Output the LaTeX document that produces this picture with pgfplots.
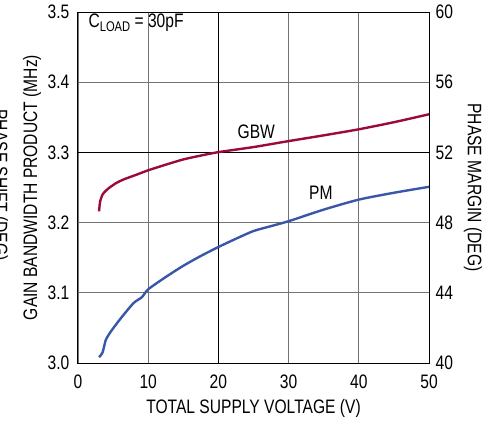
\documentclass[border=0pt]{standalone}
\usepackage{fontspec}
\setmainfont[FakeStretch=0.8]{Liberation Sans}
\usepackage{pgfplots}
\pgfplotsset{compat=1.18}
\definecolor{gbw}{HTML}{9B0A3A}
\definecolor{pm}{HTML}{3A56A8}
\begin{document}
\fontsize{19.5}{22}\selectfont
\begin{tikzpicture}
\pgfplotsset{
  common/.style={
    at={(0,0)}, anchor=south west,
    scale only axis, width=351pt, height=351pt,
    xmin=0, xmax=50,
    /pgf/number format/assume math mode=true,
    major tick length=0pt,
    axis line style={black, line width=1pt},
    tick label style={font=\fontsize{19.5}{22}\selectfont},
    label style={font=\fontsize{19.5}{22}\selectfont},
  }
}
\begin{axis}[common,
  ymin=3.0, ymax=3.5,
  xtick={0,10,20,30,40,50},
  ytick={3.0,3.1,3.2,3.3,3.4,3.5},
  yticklabel style={/pgf/number format/fixed,/pgf/number format/precision=1,/pgf/number format/fixed zerofill, xshift=-2pt},
  xticklabel style={yshift=-5pt},
  grid=major, major grid style={black!55, line width=0.9pt},
  xlabel={TOTAL SUPPLY VOLTAGE (V)},
  ylabel={GAIN BANDWIDTH PRODUCT (MHz)},
  xlabel style={at={(axis description cs:0.5,0)}, anchor=center, yshift=-45pt},
  ylabel style={at={(axis description cs:-0.131,0.5)}, anchor=center},
]
\draw[black, line width=0.9pt] (axis cs:20,3.0) -- (axis cs:20,3.5);
\draw[black, line width=0.9pt] (axis cs:0,3.3) -- (axis cs:50,3.3);
\addplot[gbw, line width=2.4pt, smooth, tension=0.4] coordinates {
(3.0,3.216) (3.15,3.230) (3.5,3.240) (3.9,3.2447) (4.5,3.250) (5.5,3.2567)
(6.5,3.2615) (8.4,3.2685) (10,3.2745) (12.5,3.2825) (15,3.290) (17.5,3.2955)
(20,3.3004) (25,3.3076) (30,3.3161) (35,3.3243) (40,3.3329) (45,3.343) (50,3.3543)
};
\node[anchor=center] at (axis cs:25.4,3.330) {GBW};
\node[anchor=center] at (axis cs:34.6,3.2424) {PM};
\node[anchor=west, inner sep=0pt] at (axis cs:1.47,3.4845) {C\raisebox{-3.5pt}{\fontsize{14}{14}\selectfont LOAD} = 30pF};
\end{axis}
\begin{axis}[common,
  ymin=40, ymax=60,
  ytick={40,44,48,52,56,60},
  hide x axis,
  axis y line*=right,
  ylabel={PHASE MARGIN (DEG)},
  ylabel style={at={(axis description cs:1.125,0.5)}, anchor=center, rotate=180},
]
\addplot[pm, line width=2.4pt, smooth, tension=0.4] coordinates {
(3.0,40.33) (3.5,40.6) (3.95,41.3) (4.6,41.75) (6.0,42.5) (7.9,43.41) (9.1,43.75)
(10,44.2) (12.5,44.9) (15,45.54) (17.5,46.1) (20,46.61) (22.5,47.08) (25,47.52)
(27.5,47.8) (30,48.08) (35,48.74) (40,49.31) (45,49.7) (50,50.04)
};
\end{axis}
\node[overlay, rotate=-90, anchor=center] at (-79pt,178pt) {PHASE SHIFT (DEG)};
\pgfresetboundingbox
\path (-78pt,-58pt) rectangle (419pt,363pt);
\end{tikzpicture}
\end{document}
